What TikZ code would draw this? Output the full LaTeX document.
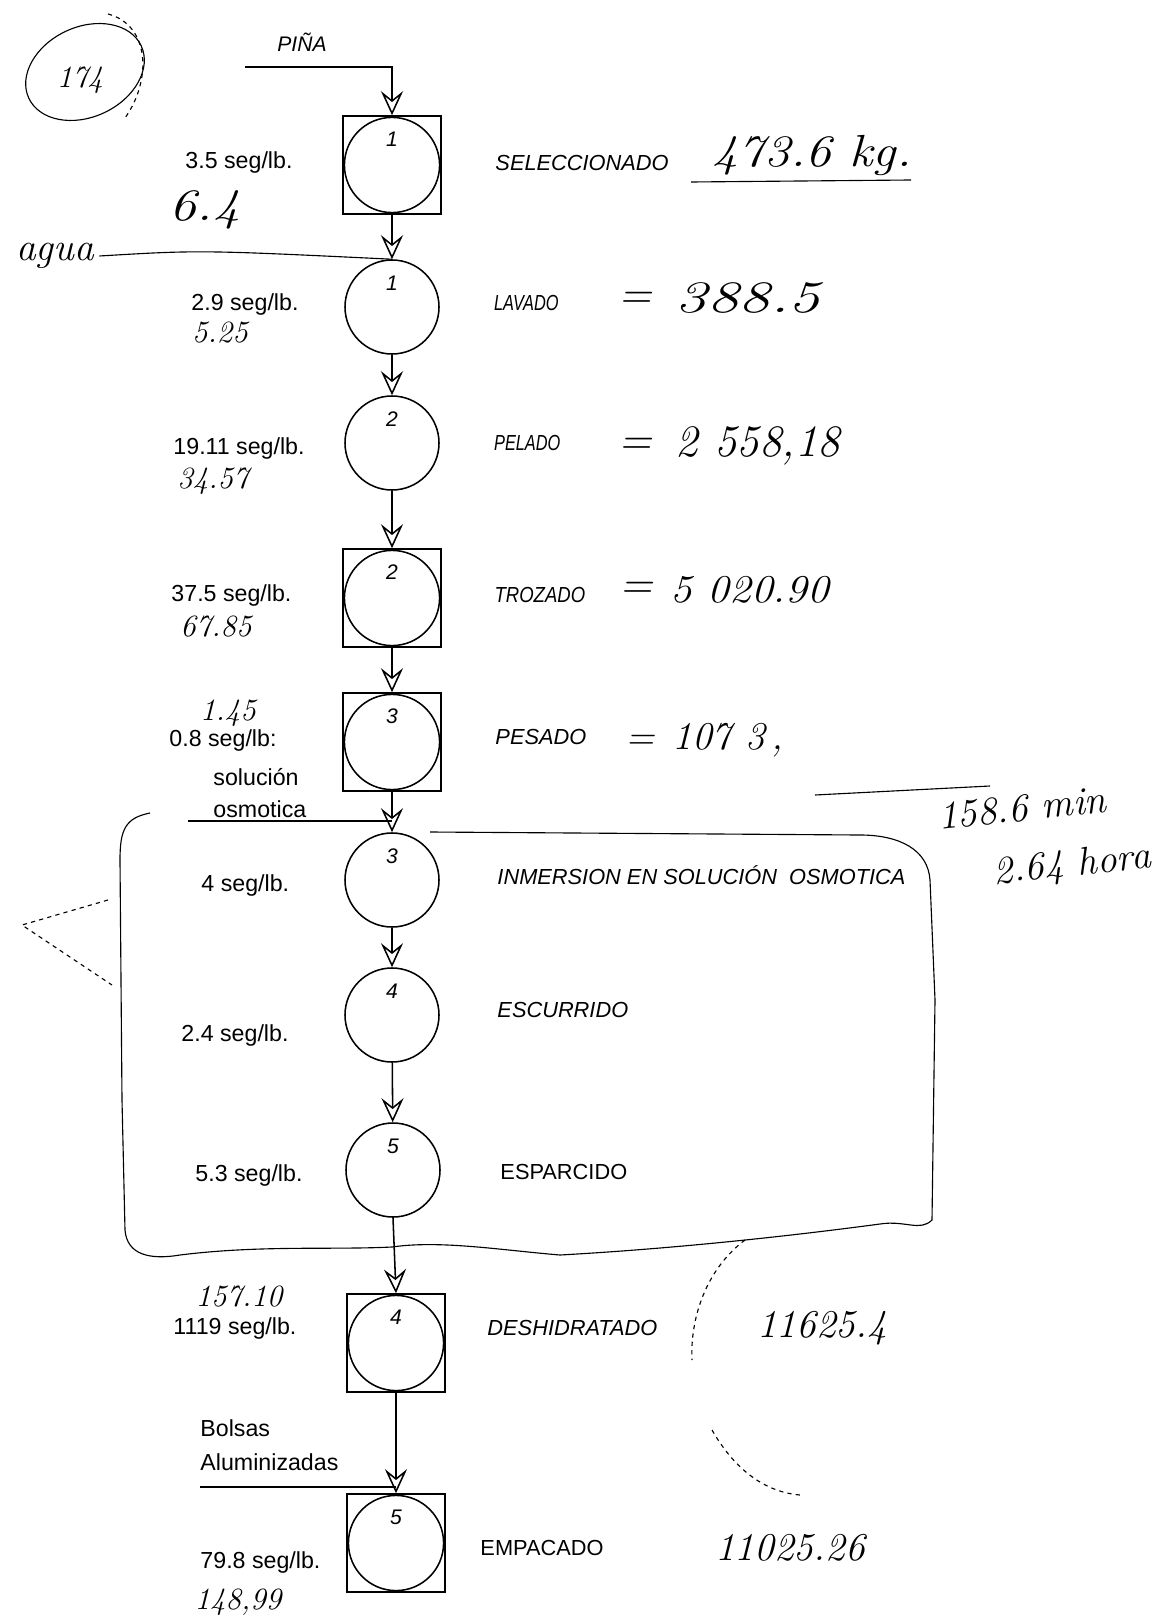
\documentclass[tikz,border=0pt]{standalone}
\usepackage{fontspec}
\usepackage{tikz}
\usetikzlibrary{arrows.meta,positioning,calc}
\newfontfamily\labelfont{Liberation Sans}

\begin{document}
\begin{tikzpicture}[x=0.25mm,y=-0.25mm,line width=1.1pt]
    \tikzset{
        oper/.style={
            draw,
            circle,
            minimum size=23.5mm,
            inner sep=0pt
        },
        opinsp/.style={
            draw,
            rectangle,
            minimum size=24.5mm,
            inner sep=0pt,
            path picture={\draw[line width=1.1pt] (path picture bounding box.center) circle (11.9mm);}
        },
        num/.style={font=\labelfont\itshape\fontsize{15}{15}\selectfont,anchor=north,yshift=-2.8mm},
        flow/.style={-{Stealth[open,length=6mm,width=5.5mm,inset=2.2mm]}},
        stage/.style={anchor=west,font=\labelfont\itshape\fontsize{15.5}{18}\selectfont},
        stageup/.style={anchor=west,font=\labelfont\fontsize{15.5}{18}\selectfont},
        tiempo/.style={anchor=west,font=\labelfont\fontsize{16.5}{19}\selectfont},
        hand/.style={font=\itshape\fontsize{28}{30}\selectfont},
        handbig/.style={font=\itshape\fontsize{32}{34}\selectfont},
        handsm/.style={font=\itshape\fontsize{22}{24}\selectfont},
        handline/.style={line width=0.8pt}
    }
    \useasboundingbox (0,0) rectangle (1160,1623);

    % Operations
    \node[opinsp,label={[num]north:1}] (sel) at (392,165) {};
    \node[oper,label={[num]north:1}] (lav) at (392,307) {};
    \node[oper,label={[num]north:2}] (pel) at (392,443) {};
    \node[opinsp,label={[num]north:2}] (tro) at (392,598) {};
    \node[opinsp,label={[num]north:3}] (pes) at (392,742) {};
    \node[oper,label={[num]north:3}] (inm) at (392,880) {};
    \node[oper,label={[num]north:4}] (esc) at (392,1015) {};
    \node[oper,label={[num]north:5}] (esp) at (393,1170) {};
    \node[opinsp,label={[num]north:4}] (des) at (396,1343) {};
    \node[opinsp,label={[num]north:5}] (emp) at (396,1543) {};

    \draw[flow] (sel) -- (lav);
    \draw[flow] (lav) -- (pel);
    \draw[flow] (pel) -- (tro);
    \draw[flow] (tro) -- (pes);
    \draw[flow] (pes) -- (inm);
    \draw[flow] (inm) -- (esc);
    \draw[flow] (esc) -- (esp);
    \draw[flow] (esp.south) -- (des.north);
    \draw[flow] (des) -- (emp);

    % Inputs
    \node[font=\labelfont\itshape\fontsize{15}{18}\selectfont] (pina) at (302,42) {PIÑA};
    \coordinate (pinaIn) at (245,67);
    \draw[flow] (pinaIn) -| (sel.north);

    \coordinate (osmIn) at (188,821);
    \draw (osmIn) -- (osmIn -| inm.north);

    \coordinate (bolIn) at (200,1487);
    \draw (bolIn) -- (bolIn -| emp.north);
    \node[tiempo] (bolsas) at (195,1428) {Bolsas};
    \node[tiempo] (alum) at (195,1462) {Aluminizadas};

    % Stage names
    \node[stage] (selL) at (490,163) {SELECCIONADO};
    \node[stage,xscale=0.75] (lavL) at (490,303) {LAVADO};
    \node[stage,xscale=0.75] (pelL) at (490,443) {PELADO};
    \node[stage,xscale=0.85] (troL) at (490,595) {TROZADO};
    \node[stage] (pesL) at (490,737) {PESADO};
    \node[stage] (inmL) at (492,875) {INMERSION EN SOLUCIÓN~~OSMOTICA};
    \node[stage] (escL) at (492,1010) {ESCURRIDO};
    \node[stageup] (espL) at (495,1172) {ESPARCIDO};
    \node[stage] (desL) at (482,1328) {DESHIDRATADO};
    \node[stageup] (empL) at (475,1548) {EMPACADO};

    % Times
    \node[tiempo] (t1) at (180,163) {3.5 seg/lb.};
    \node[tiempo] (t2) at (186,305) {2.9 seg/lb.};
    \node[tiempo] (t3) at (168,449) {19.11 seg/lb.};
    \node[tiempo] (t4) at (166,595) {37.5 seg/lb.};
    \node[tiempo] (t5) at (164,740) {0.8 seg/lb:};
    \node[tiempo] (sol) at (208,777) {solución};
    \node[tiempo] (osm) at (208,809) {osmotica};
    \node[tiempo] (t6) at (196,885) {4 seg/lb.};
    \node[tiempo] (t7) at (176,1035) {2.4 seg/lb.};
    \node[tiempo] (t8) at (190,1175) {5.3 seg/lb.};
    \node[tiempo] (t9) at (168,1328) {1119 seg/lb.};
    \node[tiempo] (t10) at (195,1562) {79.8 seg/lb.};

    % Handwritten notes
    \node[handbig,xscale=1.15] (h1) at (812,155) {473.6 kg.};
    \draw[handline] (691,182) -- (911,180);
    \node[handbig,xscale=1.2] (h1L) at (205,210) {6.4};
    \node[hand] (agua) at (55,256) {agua};
    \draw[handline] (agua.east) .. controls (200,250) .. (lav.north);
    \node[handbig] (eq2) at (635,300) {=};
    \node[handbig,xscale=1.4] (h2) at (748,298) {388.5};
    \node[handsm] (h2L) at (220,333) {5.25};
    \node[handbig] (eq3) at (635,446) {=};
    \node[handbig] (h3) at (758,446) {2 558,18};
    \node[handsm] (h3L) at (213,481) {34.57};
    \node[handbig] (eq4) at (636,590) {=};
    \node[hand,xscale=1.1] (h4) at (750,590) {5 020.90};
    \node[handsm] (h4L) at (216,627) {67.85};
    \node[hand] (eq5) at (640,742) {=};
    \node[hand] (h5) at (728,740) {107 3\,,};
    \node[handsm] (h5L) at (228,713) {1.45};
    \draw[handline] (815,795) -- (990,786);
    \node[hand,rotate=6] (hmin) at (1022,808) {158.6 min};
    \node[hand,rotate=6] (hora) at (1072,866) {2.64 hora};
    \node[handsm] (h9L) at (239,1297) {157.10};
    \node[hand] (h9) at (822,1328) {11625.4};
    \node[hand] (h10) at (790,1548) {11025.26};
    \node[handsm] (h10L) at (238,1602) {148,99};

    % Page mark
    \draw[handline] (85,72) ellipse [x radius=62,y radius=45,rotate=25];
    \draw[handline,dashed] (108,14) .. controls (150,25) and (152,80) .. (125,118);
    \node[handsm] (page) at (80,80) {174};

    % Enclosure of the osmotic stages
    \draw[handline]
        (150,813) .. controls (125,818) and (120,830) .. (120,860)
        -- (122,1100) -- (125,1230)
        .. controls (127,1255) and (150,1260) .. (180,1255)
        .. controls (260,1245) and (330,1250) .. (392,1247)
        .. controls (440,1240) and (500,1250) .. (560,1255)
        .. controls (650,1250) and (760,1240) .. (880,1224)
        .. controls (905,1220) and (920,1232) .. (932,1220)
        -- (935,1000) -- (930,880)
        .. controls (928,850) and (900,835) .. (860,835)
        -- (430,832);
    \draw[handline,dashed] (108,900) -- (22,925) -- (112,985);
    \draw[handline,dashed] (745,1240) .. controls (705,1270) and (690,1320) .. (692,1360);
    \draw[handline,dashed] (712,1430) .. controls (735,1470) and (765,1492) .. (800,1495);
\end{tikzpicture}
\end{document}
